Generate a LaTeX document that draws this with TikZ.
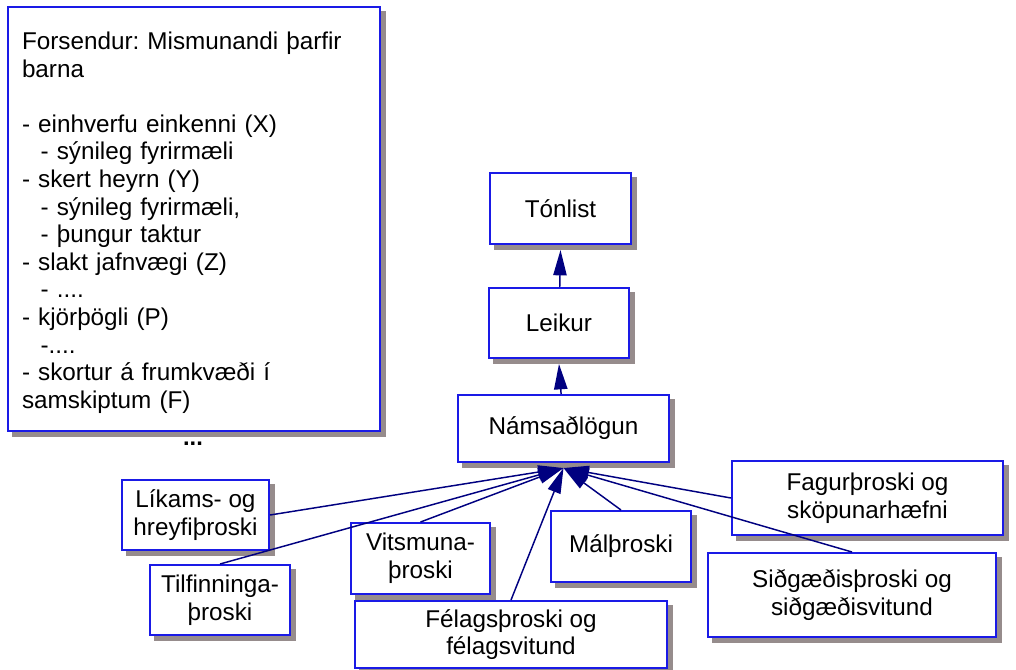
\documentclass[tikz,border=0pt]{standalone}
\usepackage{fontspec}
\setmainfont{Liberation Sans}
\usetikzlibrary{arrows.meta,backgrounds}
\definecolor{boxblue}{HTML}{1A1AE6}
\definecolor{linenavy}{HTML}{000080}
\definecolor{shadowgray}{HTML}{968C8C}

\begin{document}
\frenchspacing
\begin{tikzpicture}[x=0.75pt, y=-0.75pt,
    box/.style={draw=boxblue, line width=1.5pt, fill=white, align=center, inner sep=0pt,
        font=\fontsize{18.2}{20.7}\selectfont},
    link/.style={draw=linenavy, line width=1.1pt, -{Triangle[length=19pt, width=10pt]}}]
    \useasboundingbox (0,0) rectangle (1016,669);

    % Draw the box with the needs of the children
    \node[box, text width=258pt, align=left, inner xsep=10.5pt, minimum height=318pt, text height=18.5pt] (needs) at (194,219)
        {Forsendur: Mismunandi þarfir\\barna\\[20.7pt]
         - einhverfu einkenni (X)\\\hspace*{14pt}- sýnileg fyrirmæli\\
         - skert heyrn (Y)\\\hspace*{14pt}- sýnileg fyrirmæli,\\\hspace*{14pt}- þungur taktur\\
         - slakt jafnvægi (Z)\\\hspace*{14pt}- ....\\
         - kjörþögli (P)\\\hspace*{14pt}-....\\
         - skortur á frumkvæði í\\samskiptum (F)};
    \node[anchor=base, inner sep=0pt, font=\fontsize{17.8}{20.7}\selectfont\bfseries] (more) at (193,445) {...};

    % Draw the chain in the middle
    \node[box, minimum width=105.75pt, minimum height=53.25pt] (tonlist) at (560.5,208.5) {Tónlist};
    \node[box, minimum width=105pt, minimum height=52.5pt] (leikur) at (559,323) {Leikur};
    \node[box, minimum width=158.25pt, minimum height=50.25pt] (nams) at (563.5,428.5) {Námsaðlögun};

    % Draw the areas of development
    \node[box, minimum width=110.25pt, minimum height=52.5pt] (likams) at (195.5,515) {Líkams- og\\hreyfiþroski};
    \node[box, minimum width=105pt, minimum height=52.5pt] (tilf) at (220,600) {Tilfinninga-\\þroski};
    \node[box, minimum width=104.25pt, minimum height=53.25pt] (vits) at (420.5,558.5) {Vitsmuna-\\þroski};
    \node[box, minimum width=234pt, minimum height=50.25pt] (felags) at (511,634.5) {Félagsþroski og\\félagsvitund};
    \node[box, minimum width=105pt, minimum height=53.25pt] (mal) at (621,546.5) {Málþroski};
    \node[box, minimum width=203.25pt, minimum height=55.5pt] (fagur) at (867.5,498) {Fagurþroski og\\sköpunarhæfni};
    \node[box, minimum width=216pt, minimum height=63pt] (sidg) at (852,595) {Siðgæðisþroski og\\siðgæðisvitund};

    % Draw the shadows behind the boxes
    \begin{scope}[on background layer]
        \foreach \n in {needs,tonlist,leikur,nams,likams,tilf,vits,felags,mal,fagur,sidg}
            \fill[shadowgray] ([xshift=3.75pt,yshift=-3.75pt]\n.south west) rectangle ([xshift=3.75pt,yshift=-3.75pt]\n.north east);
    \end{scope}

    % Draw the arrows
    \draw[link] (leikur) -- ([yshift=-3.75pt]tonlist.south);
    \draw[link] (nams) -- ([yshift=-3.75pt]leikur.south);
    \draw[link] (likams.east) -- ([yshift=-3.75pt]nams.south);
    \draw[link] (tilf.north) -- ([yshift=-3.75pt]nams.south);
    \draw[link] (vits.north) -- ([yshift=-3.75pt]nams.south);
    \draw[link] (felags.north) -- ([yshift=-3.75pt]nams.south);
    \draw[link] (mal.north) -- ([yshift=-3.75pt]nams.south);
    \draw[link] (fagur.west) -- ([yshift=-3.75pt]nams.south);
    \draw[link] (sidg.north) -- ([yshift=-3.75pt]nams.south);
\end{tikzpicture}
\end{document}
